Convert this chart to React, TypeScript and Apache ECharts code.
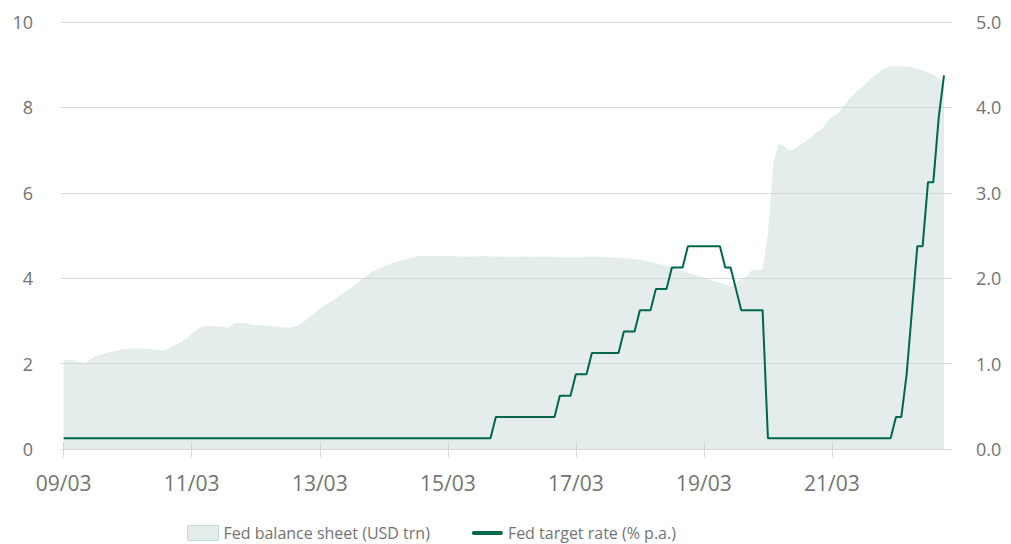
import React, { useEffect, useRef } from "react";
import * as echarts from "echarts";

// Monthly, starting 2009-03
const startYear = 2009;
const startMonth = 3;
const monthCount = 167; // 2009-03 .. 2023-01 (last slot left empty)

const balanceSheet: number[] = [
  // 2009 (Mar-Dec)
  2.08, 2.09, 2.07, 2.03, 2.01, 2.10, 2.17, 2.21, 2.25, 2.28,
  // 2010
  2.30, 2.33, 2.34, 2.36, 2.36, 2.35, 2.35, 2.33, 2.32, 2.32, 2.37, 2.44,
  // 2011
  2.50, 2.59, 2.70, 2.80, 2.87, 2.88, 2.88, 2.87, 2.86, 2.84, 2.95, 2.95,
  // 2012
  2.95, 2.91, 2.90, 2.89, 2.89, 2.88, 2.87, 2.85, 2.84, 2.85, 2.91, 2.98,
  // 2013
  3.08, 3.18, 3.28, 3.37, 3.45, 3.53, 3.61, 3.70, 3.78, 3.88, 4.00, 4.08,
  // 2014
  4.16, 4.22, 4.27, 4.33, 4.37, 4.41, 4.44, 4.47, 4.50, 4.52, 4.52, 4.52,
  // 2015
  4.52, 4.52, 4.52, 4.52, 4.51, 4.51, 4.51, 4.51, 4.52, 4.52, 4.51, 4.51,
  // 2016
  4.51, 4.51, 4.50, 4.50, 4.51, 4.51, 4.50, 4.50, 4.50, 4.50, 4.50, 4.49,
  // 2017
  4.49, 4.49, 4.49, 4.49, 4.50, 4.50, 4.50, 4.50, 4.49, 4.49, 4.48, 4.47,
  // 2018
  4.46, 4.45, 4.43, 4.41, 4.38, 4.35, 4.32, 4.29, 4.26, 4.22, 4.17, 4.12,
  // 2019
  4.09, 4.05, 4.01, 3.97, 3.93, 3.89, 3.85, 3.81, 3.86, 4.00, 4.04, 4.19,
  // 2020
  4.19, 4.19, 5.05, 6.69, 7.14, 7.10, 6.99, 7.03, 7.12, 7.20, 7.28, 7.41,
  // 2021
  7.47, 7.65, 7.78, 7.86, 7.98, 8.17, 8.29, 8.41, 8.52, 8.64, 8.74, 8.84,
  // 2022
  8.93, 8.97, 8.97, 8.96, 8.95, 8.94, 8.90, 8.87, 8.82, 8.77, 8.67, 8.62,
];

const targetRate: number[] = [
  // 2009 (Mar-Dec)
  0.125, 0.125, 0.125, 0.125, 0.125, 0.125, 0.125, 0.125, 0.125, 0.125,
  // 2010
  0.125, 0.125, 0.125, 0.125, 0.125, 0.125, 0.125, 0.125, 0.125, 0.125, 0.125, 0.125,
  // 2011
  0.125, 0.125, 0.125, 0.125, 0.125, 0.125, 0.125, 0.125, 0.125, 0.125, 0.125, 0.125,
  // 2012
  0.125, 0.125, 0.125, 0.125, 0.125, 0.125, 0.125, 0.125, 0.125, 0.125, 0.125, 0.125,
  // 2013
  0.125, 0.125, 0.125, 0.125, 0.125, 0.125, 0.125, 0.125, 0.125, 0.125, 0.125, 0.125,
  // 2014
  0.125, 0.125, 0.125, 0.125, 0.125, 0.125, 0.125, 0.125, 0.125, 0.125, 0.125, 0.125,
  // 2015
  0.125, 0.125, 0.125, 0.125, 0.125, 0.125, 0.125, 0.125, 0.125, 0.125, 0.125, 0.375,
  // 2016
  0.375, 0.375, 0.375, 0.375, 0.375, 0.375, 0.375, 0.375, 0.375, 0.375, 0.375, 0.625,
  // 2017
  0.625, 0.625, 0.875, 0.875, 0.875, 1.125, 1.125, 1.125, 1.125, 1.125, 1.125, 1.375,
  // 2018
  1.375, 1.375, 1.625, 1.625, 1.625, 1.875, 1.875, 1.875, 2.125, 2.125, 2.125, 2.375,
  // 2019
  2.375, 2.375, 2.375, 2.375, 2.375, 2.375, 2.125, 2.125, 1.875, 1.625, 1.625, 1.625,
  // 2020
  1.625, 1.625, 0.125, 0.125, 0.125, 0.125, 0.125, 0.125, 0.125, 0.125, 0.125, 0.125,
  // 2021
  0.125, 0.125, 0.125, 0.125, 0.125, 0.125, 0.125, 0.125, 0.125, 0.125, 0.125, 0.125,
  // 2022
  0.125, 0.125, 0.375, 0.375, 0.875, 1.625, 2.375, 2.375, 3.125, 3.125, 3.875, 4.375,
];

const leftTicks = { min: 0, max: 10, interval: 2 };
const rightTicks = { min: 0, max: 5, interval: 1 };
const labelEvery = 24; // every two years, March

const seriesNames = ["Fed balance sheet (USD trn)", "Fed target rate (% p.a.)"];

const months: string[] = [];
for (let i = 0; i < monthCount; i++) {
  const m0 = startMonth - 1 + i;
  const y = startYear + Math.floor(m0 / 12);
  const m = (m0 % 12) + 1;
  months.push(`${y}-${String(m).padStart(2, "0")}`);
}

const FONT = "'Open Sans', sans-serif";
const GREY = "#737373";
const GRID = "#d9d9d9";
const GREEN = "#00674b";

export default function App() {
  const ref = useRef<HTMLDivElement>(null);
  useEffect(() => {
    if (!ref.current) return;
    const chart = echarts.init(ref.current, undefined, { renderer: "svg" });
    const showIdx = (i: number) => i % labelEvery === 0;
    chart.setOption({
      animation: false,
      textStyle: { fontFamily: FONT },
      grid: { left: 61, right: 59, top: 22, bottom: 95, containLabel: false },
      legend: {
        top: 520,
        left: 182,
        itemGap: 42,
        itemWidth: 31,
        itemHeight: 15,
        textStyle: { fontSize: 16, color: GREY, fontFamily: FONT },
        data: [
          {
            name: seriesNames[0],
            icon: "rect",
            itemStyle: { color: "#e4edea", borderColor: "#bfe0cf", borderWidth: 1 },
          },
          {
            name: seriesNames[1],
            icon: "path://M2,0 L31,0 A2,2 0 0 1 31,4 L2,4 A2,2 0 0 1 2,0 Z",
            itemStyle: { color: GREEN },
          },
        ],
      },
      xAxis: [
        {
          type: "category",
          data: months,
          boundaryGap: true,
          axisLine: { show: true, lineStyle: { color: GRID, width: 1 } },
          axisTick: {
            show: true,
            alignWithLabel: true,
            interval: (i: number) => showIdx(i),
            length: 8,
            lineStyle: { color: GRID },
          },
          axisLabel: {
            interval: (i: number) => showIdx(i),
            formatter: (v: string) => `${v.slice(2, 4)}/${v.slice(5, 7)}`,
            color: GREY,
            fontSize: 21,
            margin: 23,
            fontFamily: FONT,
          },
          splitLine: { show: false },
        },
        {
          type: "category",
          data: months,
          boundaryGap: true,
          position: "bottom",
          axisLine: { show: false },
          axisTick: {
            show: true,
            inside: true,
            alignWithLabel: true,
            interval: (i: number) => showIdx(i),
            length: 7,
            lineStyle: { color: GRID },
          },
          axisLabel: { show: false },
          splitLine: { show: false },
        },
      ],
      yAxis: [
        {
          type: "value",
          ...leftTicks,
          position: "left",
          axisLine: { show: false },
          axisTick: { show: false },
          axisLabel: { color: GREY, fontSize: 18, margin: 28, fontFamily: FONT },
          splitLine: { show: true, lineStyle: { color: GRID, width: 1 } },
        },
        {
          type: "value",
          ...rightTicks,
          position: "right",
          axisLine: { show: false },
          axisTick: { show: false },
          axisLabel: {
            color: GREY,
            fontSize: 18,
            margin: 24,
            fontFamily: FONT,
            formatter: (v: number) => v.toFixed(1),
          },
          splitLine: { show: false },
        },
      ],
      series: [
        {
          name: seriesNames[0],
          type: "line",
          xAxisIndex: 0,
          yAxisIndex: 0,
          data: balanceSheet,
          symbol: "none",
          lineStyle: { width: 0 },
          itemStyle: { color: "#e4edea" },
          areaStyle: { color: "rgba(196,216,210,0.45)", opacity: 1 },
          z: 1,
        },
        {
          name: seriesNames[1],
          type: "line",
          xAxisIndex: 0,
          yAxisIndex: 1,
          data: targetRate,
          symbol: "none",
          lineStyle: { width: 2, color: GREEN },
          itemStyle: { color: GREEN },
          z: 3,
        },
      ],
    });
    return () => chart.dispose();
  }, []);
  return <div ref={ref} style={{ width: 1011, height: 544, position: "absolute", left: 0, top: 0 }} />;
}
